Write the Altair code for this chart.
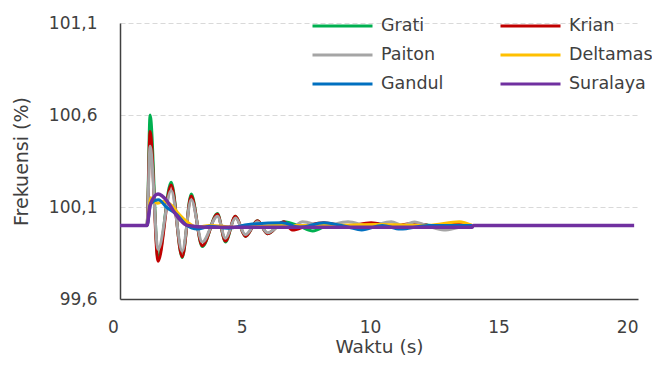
import altair as alt
import pandas as pd

series = ["Grati", "Krian", "Paiton", "Deltamas", "Gandul", "Suralaya"]
colors = ["#00B050", "#C00000", "#A5A5A5", "#FFC000", "#0070C0", "#7030A0"]
x_ticks = [0, 5, 10, 15, 20]
y_ticks = [99.6, 100.1, 100.6, 101.1]

grati_t = [0, 1.05, 1.17, 1.48, 1.99, 2.42, 2.77, 3.2, 3.79, 4.1, 4.49, 4.88, 5.35, 5.74, 6.37,
           7.0, 7.5, 8.2, 9.0, 9.8, 10.8, 11.6, 12.6, 13.7]
grati_v = [100.0, 100.0, 100.60, 99.82, 100.235, 99.825, 100.17, 99.885, 100.065, 99.91, 100.05,
           99.94, 100.025, 99.955, 100.02, 99.995, 99.97, 100.005, 99.99, 100.01, 99.995, 100.005,
           99.995, 100.0]

krian_t = [0, 1.05, 1.17, 1.48, 1.99, 2.42, 2.77, 3.2, 3.79, 4.1, 4.49, 4.88, 5.35, 5.74, 6.37,
           6.7, 7.3, 7.93, 8.8, 9.77, 10.6, 11.4, 12.3, 13.0, 13.7]
krian_v = [100.0, 100.0, 100.51, 99.805, 100.22, 99.83, 100.16, 99.89, 100.06, 99.915, 100.05,
           99.94, 100.025, 99.955, 100.02, 99.975, 100.0, 100.015, 99.995, 100.015, 99.995,
           100.012, 99.995, 100.005, 100.0]

paiton_t = [0, 1.05, 1.17, 1.48, 1.99, 2.42, 2.77, 3.2, 3.79, 4.1, 4.49, 4.88, 5.35, 5.74, 6.37,
            6.7, 7.1, 7.9, 8.87, 9.7, 10.55, 11.0, 11.45, 12.0, 12.6, 13.2, 13.7]
paiton_v = [100.0, 100.0, 100.43, 99.87, 100.19, 99.86, 100.14, 99.91, 100.05, 99.93, 100.04,
            99.95, 100.02, 99.96, 100.01, 99.99, 100.02, 99.995, 100.02, 99.995, 100.02, 100.0,
            100.018, 99.995, 99.975, 99.99, 100.0]

deltamas_t = [0, 1.05, 1.2, 1.45, 1.7, 2.0, 2.3, 2.6, 3.0, 3.5, 4.5, 6.0, 8.0, 10.0, 12.0, 13.2, 13.7]
deltamas_v = [100.0, 100.0, 100.15, 100.12, 100.13, 100.11, 100.06, 100.02, 99.99, 100.0, 99.99,
              100.0, 100.0, 100.005, 100.0, 100.02, 100.0]

gandul_t = [0, 1.05, 1.2, 1.5, 1.8, 2.2, 2.6, 3.0, 3.5, 4.2, 5.0, 6.3, 7.0, 7.93, 8.9, 9.4, 10.2,
            10.9, 12.0, 13.7]
gandul_v = [100.0, 100.0, 100.12, 100.14, 100.10, 100.06, 100.0, 99.98, 99.995, 99.985, 100.005,
            100.015, 99.99, 100.015, 99.99, 99.975, 100.0, 99.98, 100.0, 100.0]

suralaya_t = [0, 1.05, 1.17, 1.48, 1.84, 2.07, 2.34, 2.62, 3.4, 5.0, 8.0, 13.7, 13.75, 20.0]
suralaya_v = [100.0, 100.0, 100.11, 100.17, 100.13, 100.08, 100.03, 100.0, 99.99, 99.99, 99.99,
              99.99, 100.0, 100.0]

all_t = [grati_t, krian_t, paiton_t, deltamas_t, gandul_t, suralaya_t]
all_v = [grati_v, krian_v, paiton_v, deltamas_v, gandul_v, suralaya_v]

df = pd.concat(
    [pd.DataFrame({"t": ts, "v": vs, "s": name}) for name, ts, vs in zip(series, all_t, all_v)],
    ignore_index=True,
)

FONT = "DejaVu Sans"
TXT = "#404040"

color = alt.Color(
    "s:N",
    scale=alt.Scale(domain=series, range=colors),
    legend=alt.Legend(
        title=None, orient="none", legendX=191, legendY=-11, columns=2,
        direction="horizontal", clipHeight=28,
        symbolType="stroke", symbolSize=3600, symbolStrokeWidth=3,
        labelFont=FONT, labelFontSize=17.5, labelColor=TXT, labelOffset=7,
        columnPadding=55, rowPadding=1, padding=0, labelLimit=200,
    ),
)

x = alt.X(
    "t:Q",
    scale=alt.Scale(domain=[0, 20.15], nice=False, zero=False),
    axis=alt.Axis(
        values=x_ticks, grid=False, ticks=False, tickSize=0, labelPadding=20, labelOffset=-7,
        labelFlush=False, labelFont=FONT, labelFontSize=17, labelColor=TXT,
        title="Waktu (s)", titleFont=FONT, titleFontSize=18.5, titleFontWeight="normal",
        titleColor=TXT, titlePadding=2, domainColor=TXT, domainWidth=1.5,
    ),
)
y = alt.Y(
    "v:Q",
    scale=alt.Scale(domain=[99.6, 101.1], nice=False, zero=False),
    axis=alt.Axis(
        values=y_ticks, labelExpr="replace(format(datum.value, '.1f'), '.', ',')",
        grid=True, gridDash=[5, 3], gridColor="#D9D9D9", gridWidth=1,
        ticks=False, tickSize=0, labelPadding=23, labelFont=FONT, labelFontSize=17,
        labelColor=TXT, title="Frekuensi (%)", titleFont=FONT, titleFontSize=19,
        titleFontWeight="normal", titleColor=TXT, titlePadding=17,
        domainColor=TXT, domainWidth=1.5,
    ),
)

layers = []
for name in series:
    sw = 3.5 if name == "Suralaya" else 3
    layers.append(
        alt.Chart(df)
        .transform_filter(alt.datum.s == name)
        .mark_line(strokeWidth=sw, interpolate="monotone")
        .encode(x=x, y=y, color=color, order="t:Q")
    )

chart = (
    alt.layer(*layers)
    .properties(
        width=518, height=276, autosize=alt.AutoSizeParams(type="none"),
        padding={"left": 112, "top": 15, "right": 14, "bottom": 58},
    )
    .configure_view(stroke=None)
)

chart.save("out.html", embed_options={"renderer": "svg", "actions": False})
